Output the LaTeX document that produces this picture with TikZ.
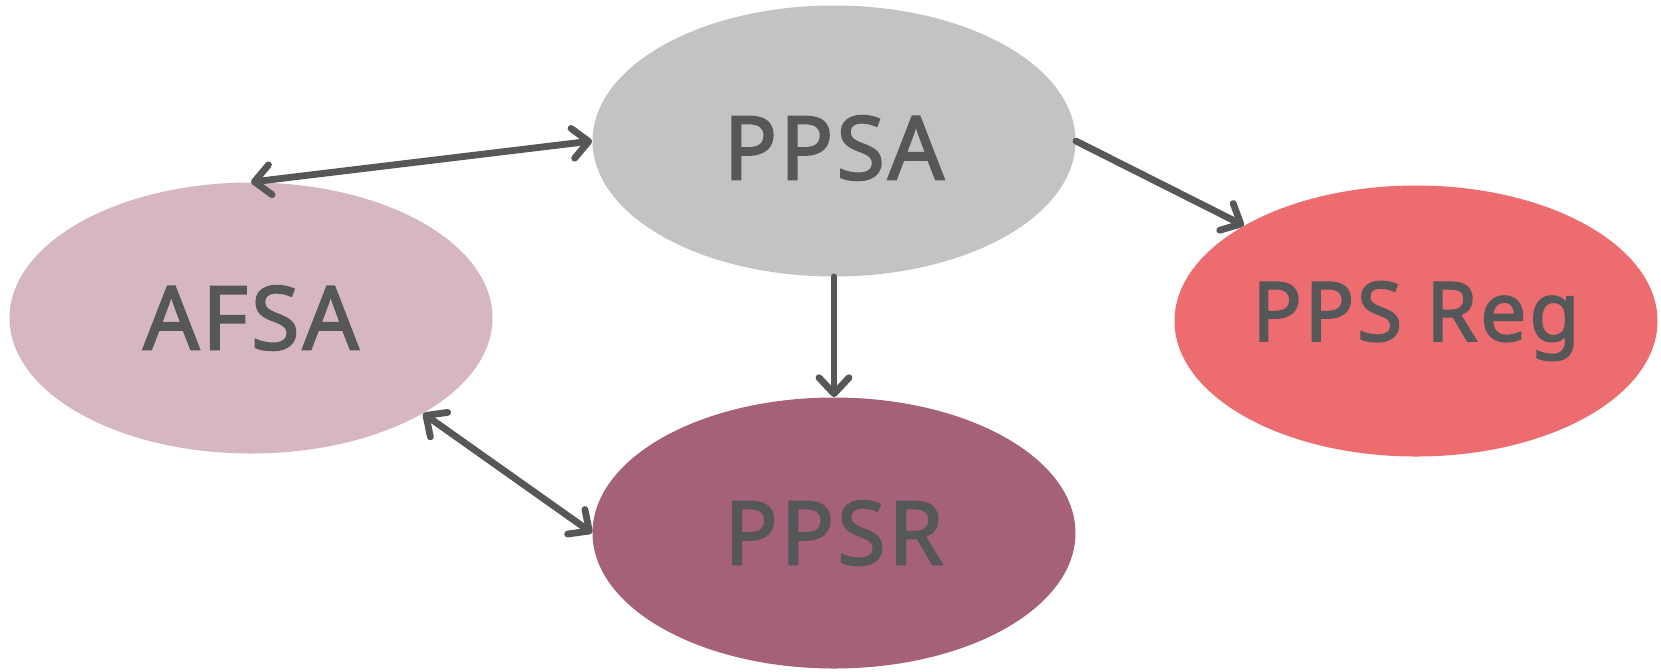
\documentclass[tikz,border=0pt]{standalone}
\usepackage{fontspec}
\newfontfamily\nodefont{Noto Sans}[FakeBold=2.2,LetterSpace=3.5]
\usetikzlibrary{arrows.meta,shapes.geometric}
\definecolor{ink}{RGB}{85,87,89}
\definecolor{ppsagray}{RGB}{196,194,195}
\definecolor{afsapink}{RGB}{215,182,195}
\definecolor{regred}{RGB}{236,108,112}
\definecolor{ppsrplum}{RGB}{165,96,122}

\begin{document}
\begin{tikzpicture}[x=0.5pt,y=-0.5pt,
  body/.style={ellipse,inner sep=0pt,minimum width=241.5pt,minimum height=135.5pt,
    text=ink,font=\nodefont\fontsize{44}{50}\selectfont},
  link/.style={draw=ink,line width=3.4pt,line cap=round,
    {Straight Barb[length=8pt,width=15pt,round]}-{Straight Barb[length=8pt,width=15pt,round]}},
  oneway/.style={link,-{Straight Barb[length=8pt,width=15pt,round]}}]
  \useasboundingbox (0,0) rectangle (1661,671);
  \node[body,fill=ppsagray] (ppsa) at (834,141) {\raisebox{-3.5pt}[\height][\depth]{PPSA}};
  \node[body,fill=afsapink] (afsa) at (251,318) {AFSA};
  \node[body,fill=regred,font=\nodefont\fontsize{41}{46}\selectfont] (ppsreg) at (1416,321) {PPS Reg};
  \node[body,fill=ppsrplum] (ppsr) at (834,533) {PPSR};
  \draw[link] (afsa.north) -- (ppsa.west);
  \draw[oneway] (ppsa.east) -- (ppsreg.151);
  \draw[oneway] (ppsa.south) -- (ppsr.north);
  \draw[link] (afsa.-29.4) -- (ppsr.west);
\end{tikzpicture}
\end{document}
